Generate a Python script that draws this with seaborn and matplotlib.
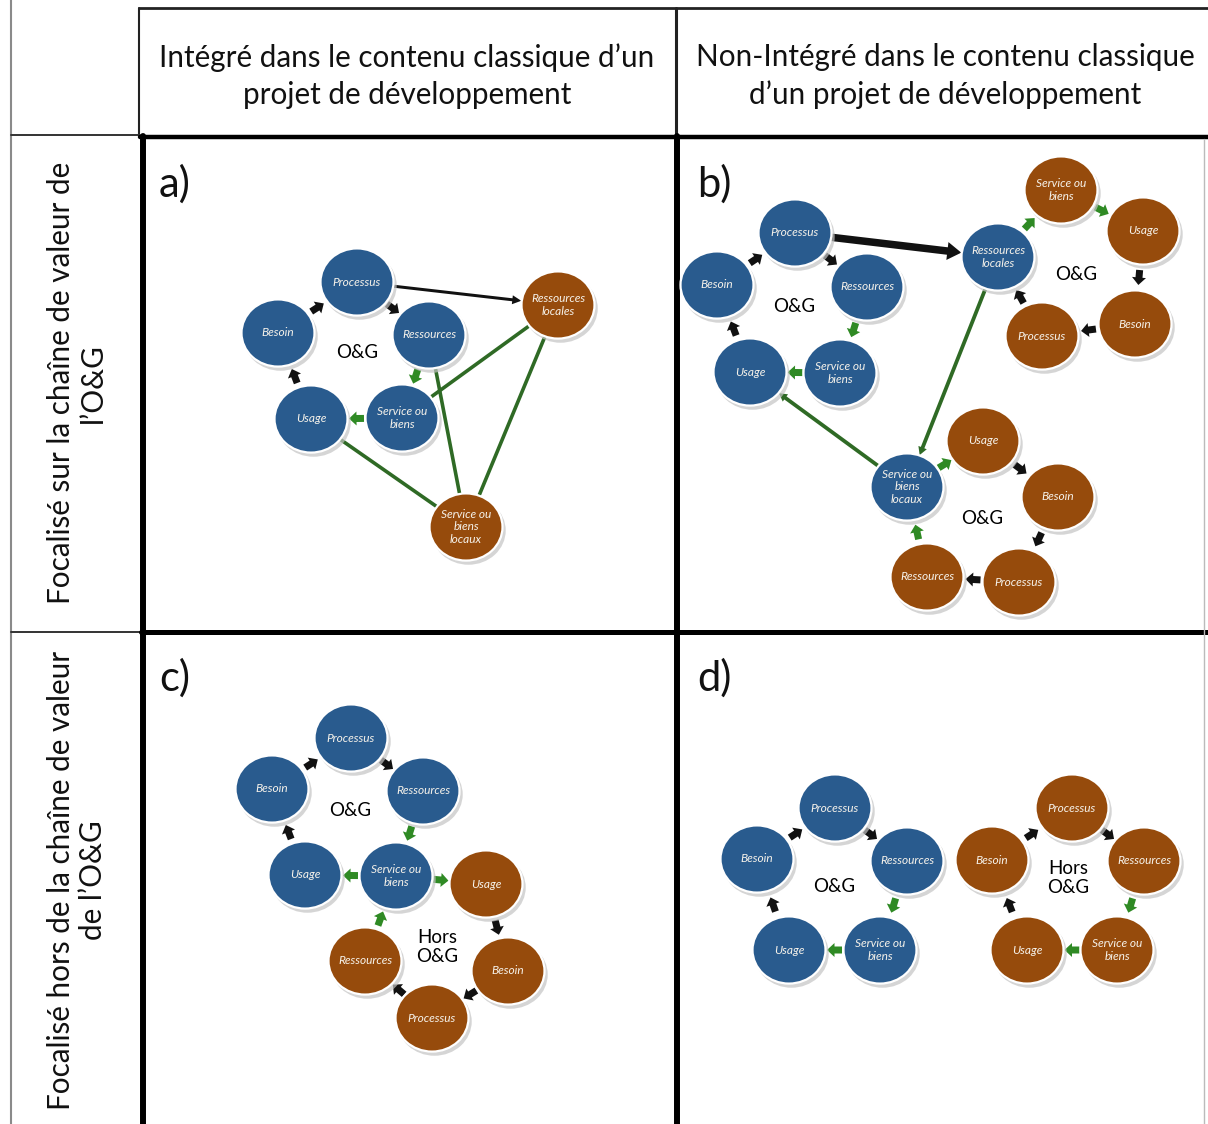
import numpy as np
import pandas as pd
import matplotlib.pyplot as plt
from matplotlib.path import Path
import seaborn as sns

# ---------------- donnees : noeuds de chaque panneau ----------------
# (libelle, position x / y en pixels de la figure, groupe)
lib_a = ["Processus", "Besoin", "Ressources", "Usage", "Service ou\nbiens",
         "Ressources\nlocales", "Service ou\nbiens\nlocaux"]
x_a = [357, 278, 429, 311, 402, 558, 466]
y_a = [282, 333, 335, 419, 418, 305, 527]
grp_a = ["O&G"] * 5 + ["hors"] * 2

lib_b = ["Processus", "Besoin", "Ressources", "Usage", "Service ou\nbiens",
         "Ressources\nlocales",
         "Service ou\nbiens", "Usage", "Besoin", "Processus",
         "Service ou\nbiens\nlocaux",
         "Usage", "Besoin", "Processus", "Ressources"]
x_b = [795, 717, 867, 750, 840, 998, 1061, 1143, 1135, 1042, 907, 983, 1058, 1019, 927]
y_b = [233, 285, 287, 372, 373, 257, 190, 231, 324, 336, 487, 441, 497, 582, 577]
grp_b = ["O&G"] * 6 + ["hors"] * 4 + ["O&G"] + ["hors"] * 4

lib_c = ["Processus", "Besoin", "Ressources", "Usage", "Service ou\nbiens",
         "Usage", "Besoin", "Processus", "Ressources"]
x_c = [351, 272, 423, 305, 396, 486, 508, 432, 365]
y_c = [738, 789, 791, 875, 876, 884, 971, 1018, 961]
grp_c = ["O&G"] * 5 + ["hors"] * 4

lib_d = ["Processus", "Besoin", "Ressources", "Usage", "Service ou\nbiens"] * 2
x_d = [835, 757, 907, 789, 880, 1072, 992, 1144, 1027, 1117]
y_d = [808, 859, 861, 950, 950, 808, 860, 861, 950, 950]
grp_d = ["O&G"] * 5 + ["hors"] * 5

# petites fleches du cycle (depuis, vers, couleur)
cycle = [(1, 0, "noir"), (0, 2, "noir"), (2, 4, "vert"), (4, 3, "vert"), (3, 1, "noir")]
fleches_a = cycle
fleches_b = cycle + [(5, 6, "vert"), (6, 7, "vert"), (7, 8, "noir"), (8, 9, "noir"), (9, 5, "noir"),
                     (10, 11, "vert"), (11, 12, "noir"), (12, 13, "noir"), (13, 14, "noir"), (14, 10, "vert")]
fleches_c = cycle + [(4, 5, "vert"), (5, 6, "noir"), (6, 7, "noir"), (7, 8, "noir"), (8, 4, "vert")]
fleches_d = cycle + [(a + 5, b + 5, c) for a, b, c in cycle]

# longs liens entre cycles
liens_a = [(0, 5, "noir_fin"), (5, 4, "vert"), (2, 6, "vert"), (5, 6, "vert"), (3, 6, "vert")]
liens_b = [(0, 5, "noir_gros"), (5, 10, "vert_fleche"), (10, 3, "vert_fleche")]

# textes centraux des cycles
centre_txt = ["O&G", "O&G", "O&G", "O&G", "O&G", "Hors\nO&G", "O&G", "Hors\nO&G"]
centre_x = [357, 794, 1076, 982, 350, 437, 834, 1068]
centre_y = [352, 307, 274, 519, 810, 947, 887, 878]

titres_col = ["Intégré dans le contenu classique d’un\nprojet de développement",
              "Non-Intégré dans le contenu classique\nd’un projet de développement"]
titres_lig = ["Focalisé sur la chaîne de valeur de\nl’O&G",
              "Focalisé hors de la chaîne de valeur\nde l’O&G"]
lettres = ["a)", "b)", "c)", "d)"]

BLEU = "#295b8e"
BRUN = "#964b0c"
VERT_FL = "#2f8a24"
VERT_LI = "#2f6a25"
NOIR = "#111111"

sns.set_theme(style="white")
plt.rcParams["font.family"] = ["Lato", "DejaVu Sans"]

fig = plt.figure(figsize=(12.08, 11.24), dpi=100)
ax = fig.add_axes([0, 0, 1, 1])

# marqueur elliptique (largeur = taille du marqueur)
cercle = Path.unit_circle()
ellipse = Path(cercle.vertices * np.array([1.0, 0.92]), cercle.codes)
TAILLE = (73 * 0.72) ** 2
RX, RY = 37, 34


def bord(c, u):
    return 1.0 / np.sqrt((u[0] / RX) ** 2 + (u[1] / RY) ** 2)


def panneau(lib, xs, ys, grp, fleches, liens):
    df = pd.DataFrame({"x": xs, "y": ys, "groupe": grp, "lib": lib})
    pts = df[["x", "y"]].to_numpy(dtype=float)

    for i, j, sorte in fleches:
        p, q = pts[i], pts[j]
        u = (q - p) / np.linalg.norm(q - p)
        m = (p + q) / 2
        ax.arrow(m[0] - 7.5 * u[0], m[1] - 7.5 * u[1], 15 * u[0], 15 * u[1],
                 width=7, head_width=14, head_length=7.5, length_includes_head=True,
                 color=NOIR if sorte == "noir" else VERT_FL, lw=0, zorder=2)

    for i, j, sorte in liens:
        p, q = pts[i], pts[j]
        u = (q - p) / np.linalg.norm(q - p)
        a = p + u * bord(p, u)
        b = q - u * bord(q, u)
        d = b - a
        if sorte == "vert":
            ax.plot([a[0], b[0]], [a[1], b[1]], color=VERT_LI, lw=2.6,
                    solid_capstyle="butt", zorder=1)
        elif sorte == "noir_fin":
            ax.arrow(a[0], a[1], d[0], d[1], width=3, head_width=9, head_length=9,
                     length_includes_head=True, color=NOIR, lw=0, zorder=1)
        elif sorte == "noir_gros":
            ax.arrow(a[0], a[1], d[0], d[1], width=7.5, head_width=18, head_length=14,
                     length_includes_head=True, color=NOIR, lw=0, zorder=1)
        else:
            ax.arrow(a[0], a[1], d[0], d[1], width=3.8, head_width=9, head_length=8,
                     length_includes_head=True, color=VERT_LI, lw=0, zorder=1)

    # ombre puis noeuds
    sns.scatterplot(x=df["x"] + 1.5, y=df["y"] + 3, color="#c4c4c4", marker=ellipse,
                    s=TAILLE * 1.04, linewidth=0, alpha=0.7, ax=ax, zorder=2, legend=False)
    sns.scatterplot(data=df, x="x", y="y", hue="groupe", palette={"O&G": BLEU, "hors": BRUN},
                    marker=ellipse, s=TAILLE, edgecolor="white", linewidth=1.6,
                    ax=ax, zorder=3, legend=False)
    for _, r in df.iterrows():
        ax.text(r["x"], r["y"], r["lib"], ha="center", va="center", color="#f6f2ea",
                fontsize=8.6, style="italic", linespacing=1.15, zorder=5)


panneau(lib_a, x_a, y_a, grp_a, fleches_a, liens_a)
panneau(lib_b, x_b, y_b, grp_b, fleches_b, liens_b)
panneau(lib_c, x_c, y_c, grp_c, fleches_c, [])
panneau(lib_d, x_d, y_d, grp_d, fleches_d, [])

for t, x, y in zip(centre_txt, centre_x, centre_y):
    ax.text(x, y, t, ha="center", va="center", fontsize=13.5, color="black",
            linespacing=1.15, zorder=5)

# cadre du tableau
ax.plot([11, 11], [0, 1124], color="#8a8a8a", lw=1.5)
ax.plot([139, 139], [8, 135], color="#222222", lw=1.5)
ax.plot([139, 1208], [8, 8], color="#222222", lw=2)
ax.plot([676, 676], [8, 136], color="#222222", lw=2.2)
ax.plot([11, 140], [135, 135], color="#333333", lw=1.4)
ax.plot([140, 1208], [137, 137], color="black", lw=3.2)
ax.plot([143, 143], [136, 1124], color="black", lw=4.3)
ax.plot([677, 677], [136, 1124], color="black", lw=4.3)
ax.plot([11, 141], [632, 632], color="#333333", lw=1.4)
ax.plot([141, 1208], [632, 632], color="black", lw=3.6)
ax.plot([1204, 1204], [139, 1124], color="#bbbbbb", lw=1)

ax.text(407, 76, titres_col[0], ha="center", va="center", fontsize=21.3,
        linespacing=1.42, color="#111111")
ax.text(945, 76, titres_col[1], ha="center", va="center", fontsize=21.3,
        linespacing=1.42, color="#111111")
ax.text(77, 383, titres_lig[0], ha="center", va="center", rotation=90,
        fontsize=21.3, linespacing=1.2, multialignment="center", color="#111111")
ax.text(77, 880, titres_lig[1], ha="center", va="center", rotation=90,
        fontsize=21.3, linespacing=1.2, multialignment="center", color="#111111")

for t, x, y in zip(lettres, [159, 697, 159, 697], [184, 184, 678, 678]):
    ax.text(x, y, t, ha="left", va="center", fontsize=30, color="#111111")

ax.set_xlim(0, 1208)
ax.set_ylim(1124, 0)
ax.axis("off")

fig.savefig("out.png", dpi=100)
